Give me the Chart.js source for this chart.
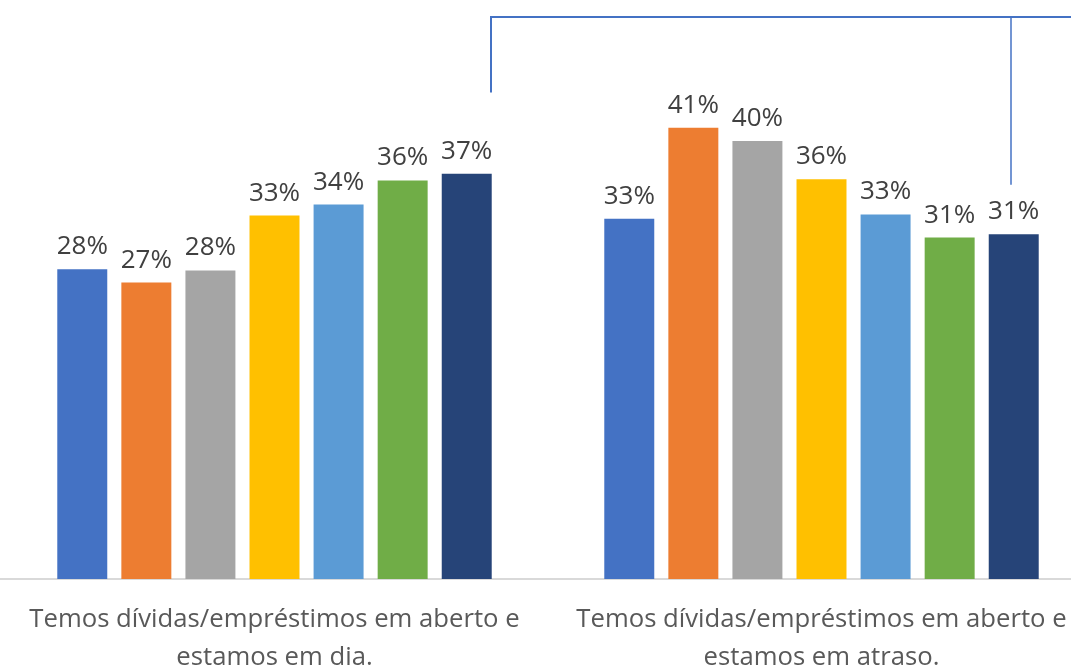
<!DOCTYPE html>
<html>
<head>
<meta charset="utf-8">
<script src="https://cdn.jsdelivr.net/npm/chart.js@4.4.0/dist/chart.umd.min.js"></script>
<style>
  html, body { margin: 0; padding: 0; background: #fff; overflow: hidden; }
  #wrap { width: 1100px; height: 667px; }
</style>
</head>
<body>
<div id="wrap"><canvas id="myChart" width="1100" height="667"></canvas></div>
<script>
// categories (two lines each)
var categories = [
  ['Temos dívidas/empréstimos em aberto e', 'estamos em dia.'],
  ['Temos dívidas/empréstimos em aberto e', 'estamos em atraso.']
];
// one series per bar colour, values in %
var serie1 = [28.2, 32.8];
var serie2 = [27.0, 41.1];
var serie3 = [28.1, 39.9];
var serie4 = [33.1, 36.4];
var serie5 = [34.1, 33.2];
var serie6 = [36.3, 31.1];
var serie7 = [36.9, 31.4];
var colors = ['#4472C4', '#ED7D31', '#A5A5A5', '#FFC000', '#5B9BD5', '#70AD47', '#264478'];

// bracket annotation levels (in % units of the value axis)
var bracketTop = 51.2;
var bracketLeftEnd = 44.3;
var bracketRightEnd = 35.9;

var fontName = "'Open Sans', 'Noto Sans', sans-serif";

var allSeries = [serie1, serie2, serie3, serie4, serie5, serie6, serie7];
var datasets = allSeries.map(function(s, i) {
  return {
    label: 'S' + (i + 1),
    data: s,
    backgroundColor: colors[i],
    borderWidth: 0,
    categoryPercentage: 0.82,
    barPercentage: 0.78
  };
});

var valueLabels = {
  id: 'valueLabels',
  afterDatasetsDraw: function(chart) {
    var ctx = chart.ctx;
    ctx.save();
    ctx.font = '26px ' + fontName;
    ctx.fillStyle = '#404040';
    ctx.textAlign = 'center';
    ctx.textBaseline = 'alphabetic';
    chart.data.datasets.forEach(function(ds, i) {
      var meta = chart.getDatasetMeta(i);
      meta.data.forEach(function(bar, j) {
        ctx.fillText(Math.round(ds.data[j]) + '%', bar.x, bar.y - 15);
      });
    });
    ctx.restore();
  }
};

var bracket = {
  id: 'bracket',
  afterDraw: function(chart) {
    var ctx = chart.ctx;
    var y = chart.scales.y;
    var lastMeta = chart.getDatasetMeta(chart.data.datasets.length - 1);
    var leftBar = lastMeta.data[0];
    var rightBar = lastMeta.data[1];
    var xl = Math.round(leftBar.x + leftBar.width / 2) - 1;
    var xr = Math.round(rightBar.x) - 3;
    var yt = Math.round(y.getPixelForValue(bracketTop));
    ctx.save();
    ctx.strokeStyle = '#4472C4';
    ctx.lineWidth = 2;
    ctx.beginPath();
    ctx.moveTo(xl, y.getPixelForValue(bracketLeftEnd));
    ctx.lineTo(xl, yt);
    ctx.lineTo(chart.width, yt);
    ctx.stroke();
    ctx.lineWidth = 1.5;
    ctx.beginPath();
    ctx.moveTo(xr, yt);
    ctx.lineTo(xr, y.getPixelForValue(bracketRightEnd));
    ctx.stroke();
    ctx.restore();
  }
};

var ctx = document.getElementById('myChart').getContext('2d');
var myChart = new Chart(ctx, {
  type: 'bar',
  data: { labels: categories, datasets: datasets },
  plugins: [valueLabels, bracket],
  options: {
    responsive: false,
    animation: false,
    layout: { padding: { left: 1, right: 5, top: 30, bottom: 0 } },
    plugins: { legend: { display: false }, tooltip: { enabled: false } },
    scales: {
      x: {
        grid: { display: false, drawTicks: false },
        border: { display: true, color: '#D9D9D9', width: 2 },
        ticks: {
          color: '#595959',
          padding: 22,
          maxRotation: 0,
          autoSkip: false,
          font: { family: fontName, size: 25.7, lineHeight: 1.48 }
        },
        afterFit: function(scale) { scale.height = 88; }
      },
      y: {
        display: false,
        min: 0,
        max: 50
      }
    }
  }
});
</script>
</body>
</html>
